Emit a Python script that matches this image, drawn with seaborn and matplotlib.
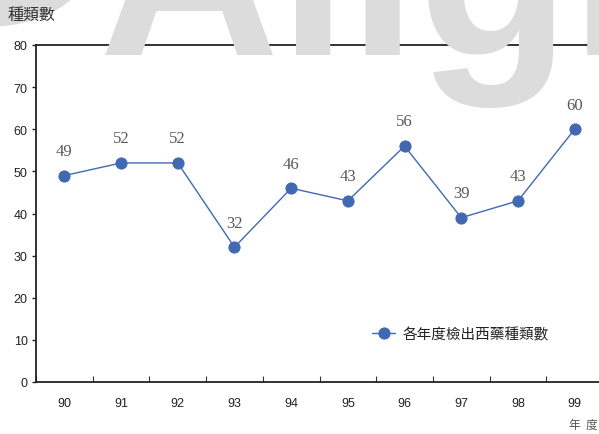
import matplotlib
matplotlib.use("Agg")
import matplotlib.pyplot as plt
from matplotlib.patches import Circle
import seaborn as sns
import pandas as pd
import numpy as np

# Data: number of Western drug types detected per (ROC) year
years = ["90", "91", "92", "93", "94", "95", "96", "97", "98", "99"]
counts = [49, 52, 52, 32, 46, 43, 56, 39, 43, 60]
series_name = "各年度檢出西藥種類數"
y_title = "種類數"
x_title = "年  度"

sns.set_theme(style="white")
plt.rcParams["font.family"] = ["Liberation Sans", "Noto Sans CJK TC", "DejaVu Sans"]
cjk = ["Noto Sans CJK TC", "DejaVu Sans"]

W, H = 599, 435
fig = plt.figure(figsize=(W / 100, H / 100), dpi=100)
fig.patch.set_facecolor("white")

# Light background brand mark
fig.patches.append(Circle((-10 / W, 1 - (-50) / H), 107 / W, transform=fig.transFigure,
                          facecolor="#dcdcdc", edgecolor="none", zorder=0))
fig.text(99 / W, 1 - 55 / H, "Align", fontsize=180, fontweight="bold",
         family="Liberation Sans", color="#dcdcdc", ha="left", va="baseline", zorder=0)

left, right, top, bottom = 36, 603, 46, 383
ax = fig.add_axes([left / W, 1 - bottom / H, (right - left) / W, (bottom - top) / H])
ax.patch.set_alpha(0)

df = pd.DataFrame({"pos": np.arange(len(years)), "count": counts})
blue = "#4169b2"
sns.lineplot(data=df, x="pos", y="count", ax=ax, color=blue, linewidth=1.0,
             marker="o", markersize=8, markeredgecolor=blue, markerfacecolor=blue,
             label=series_name)

ax.set_xlim(-0.5, len(years) - 0.5)
ax.set_ylim(0, 80)
ax.set_yticks(np.arange(0, 81, 10))
ax.set_xticks(np.arange(len(years)))
ax.set_xticklabels(years)
ax.set_xticks(np.arange(len(years) + 1) - 0.5, minor=True)
ax.set_xlabel("")
ax.set_ylabel("")

ax.tick_params(axis="x", which="major", length=0, pad=11, labelsize=9, labelcolor="#222222")
ax.tick_params(axis="x", which="minor", direction="in", length=4, width=0.8, color="#333333",
               bottom=True)
ax.tick_params(axis="y", which="major", direction="out", length=3, width=1.0, color="#222222",
               left=True, labelsize=9, labelcolor="#222222", pad=3)

for side in ["left", "bottom", "top"]:
    ax.spines[side].set_visible(True)
    ax.spines[side].set_color("#222222")
    ax.spines[side].set_linewidth(1.3)
ax.spines["right"].set_visible(False)

# Value labels above each point
for i, v in enumerate(counts):
    ax.annotate(str(v), (i, v), xytext=(0, 12), textcoords="offset points",
                ha="center", va="bottom", fontsize=12, family="Liberation Serif",
                color="#595959")

leg = ax.legend(loc="center left", bbox_to_anchor=(359 / W, 1 - 335 / H),
                bbox_transform=fig.transFigure, frameon=False, handlelength=1.6,
                handletextpad=0.5, prop={"family": cjk, "size": 10.5})
for t in leg.get_texts():
    t.set_color("#222222")

fig.text(8 / W, 1 - 15 / H, y_title, family=cjk, fontsize=11.5, color="#333333",
         ha="left", va="center")
fig.text(583 / W, 1 - 425 / H, x_title, family=cjk, fontsize=8.5, color="#555555",
         ha="center", va="center")

fig.savefig("out.png", dpi=100)
